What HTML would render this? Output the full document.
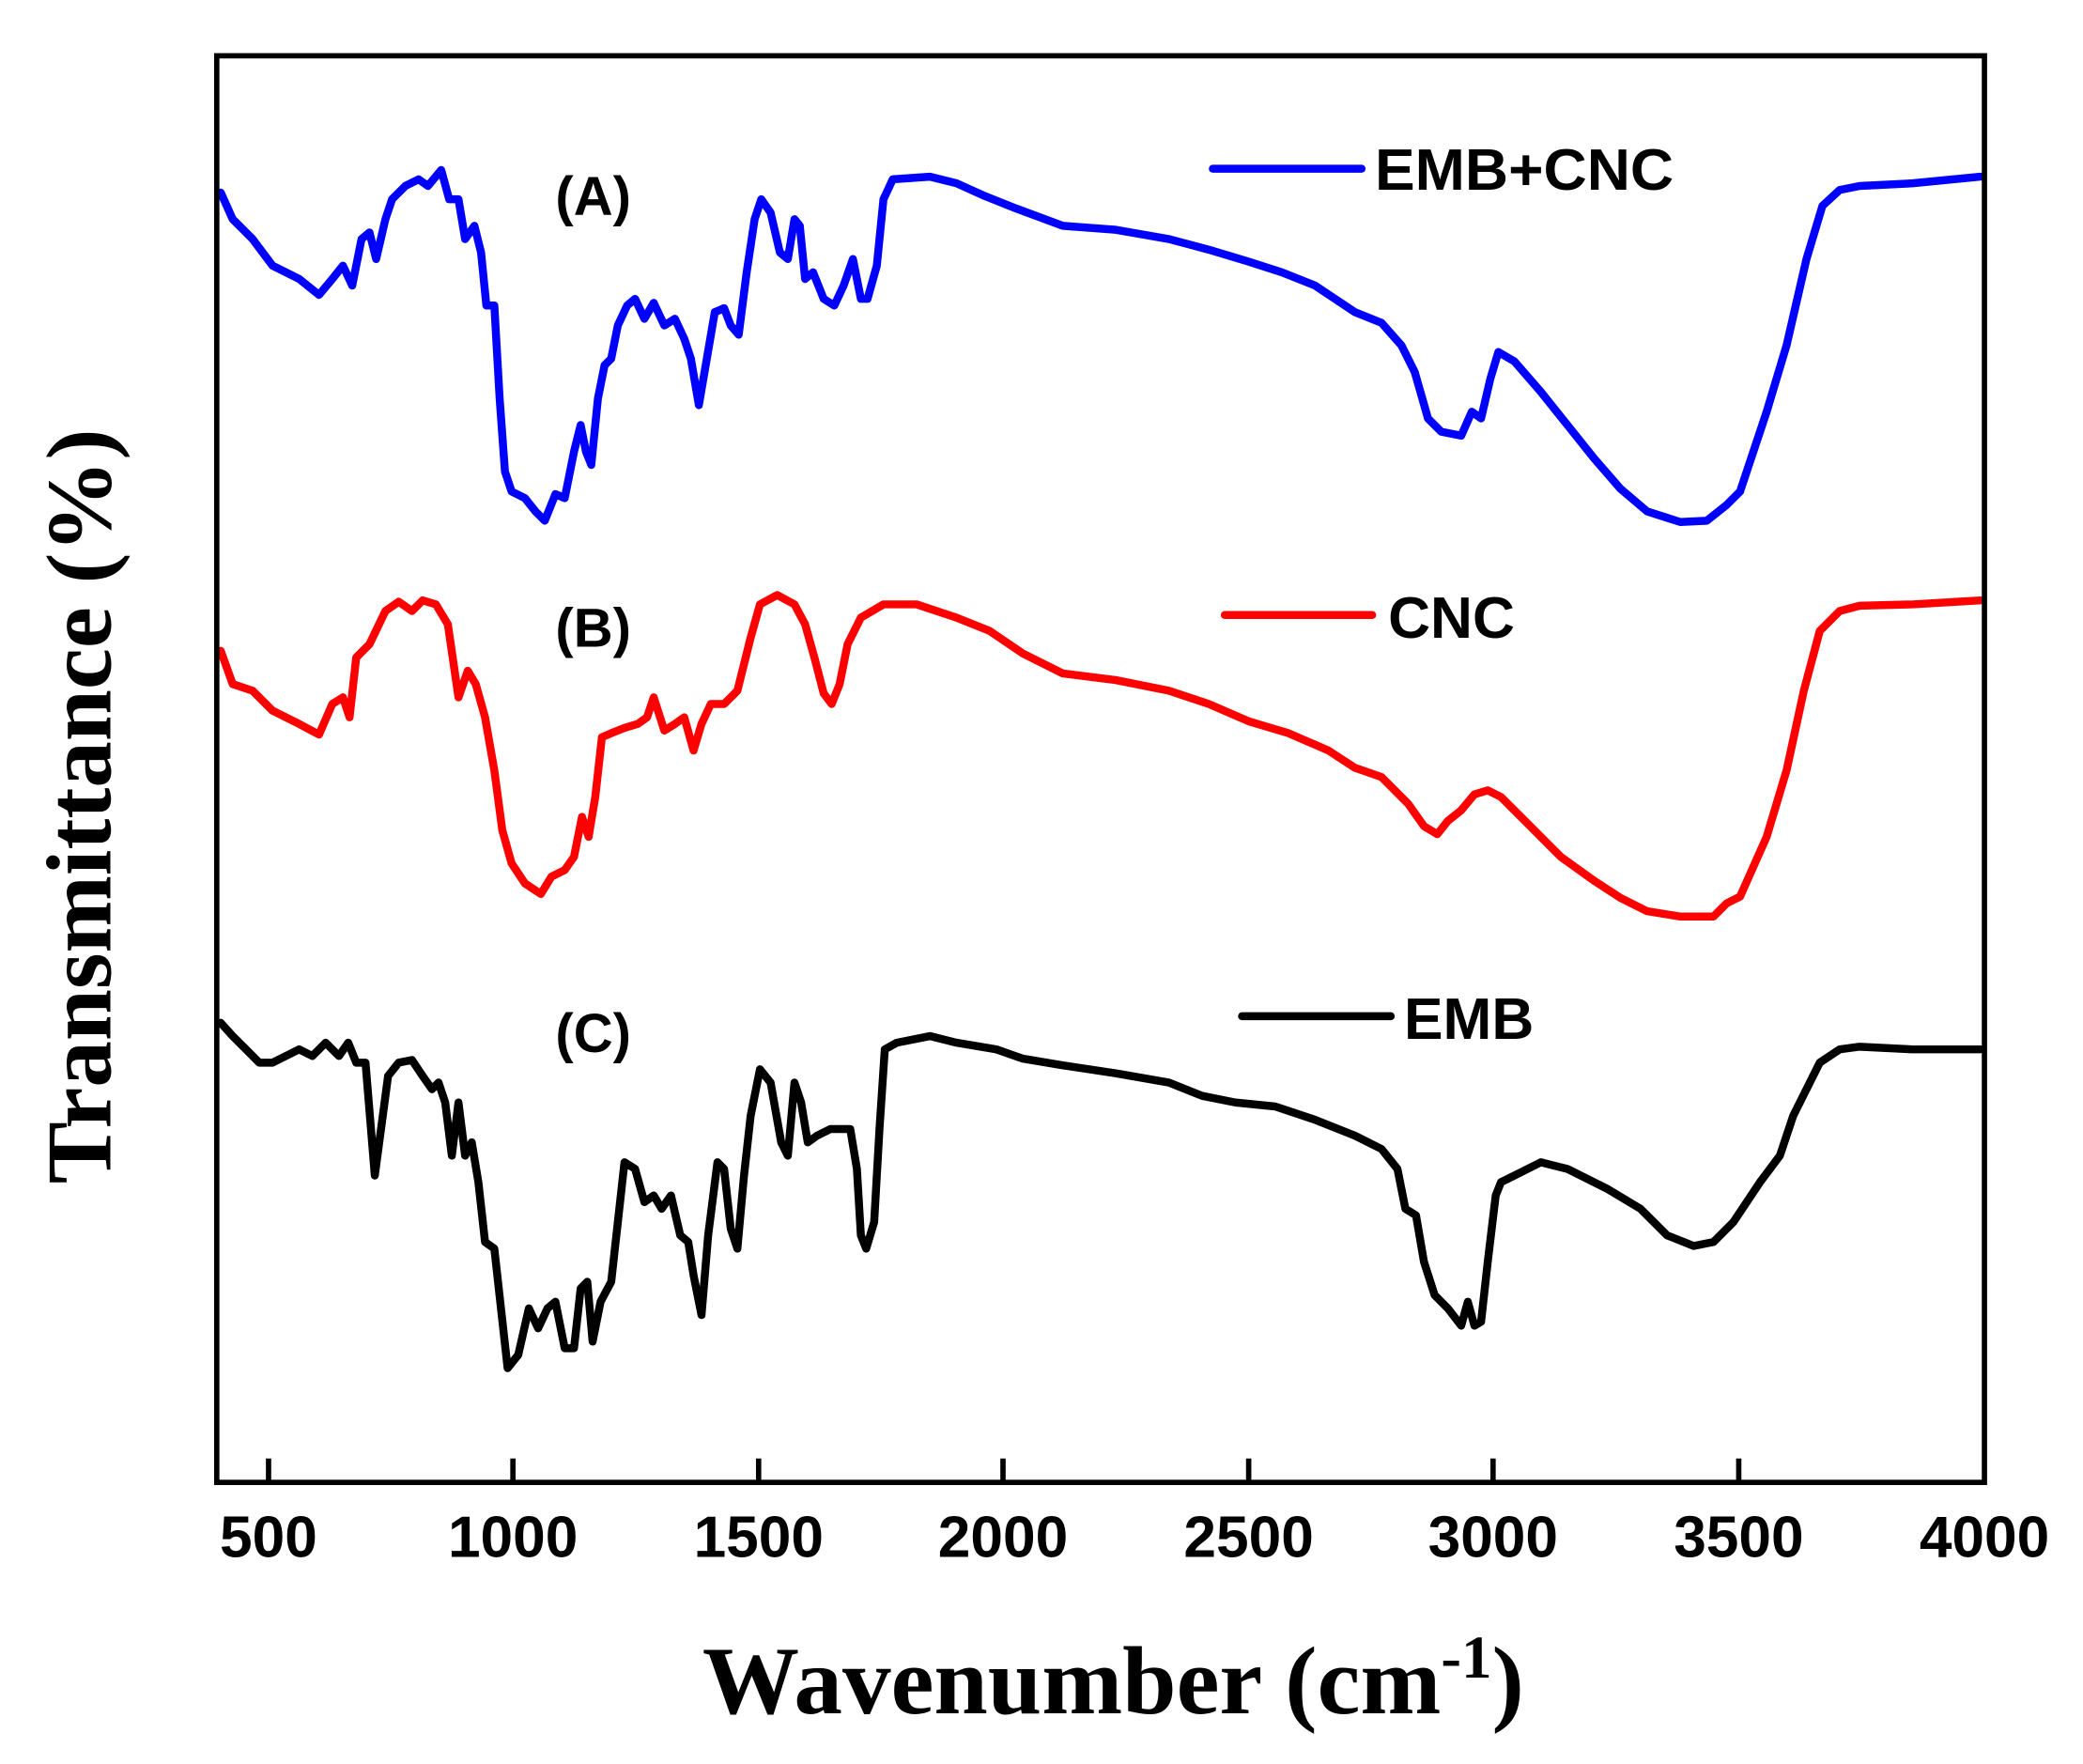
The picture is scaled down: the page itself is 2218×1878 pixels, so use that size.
<!DOCTYPE html>
<html><head><style>html,body{margin:0;padding:0;background:#fff}svg{display:block}</style></head><body>
<svg width="2218" height="1878" viewBox="0 0 1568 1328" xmlns="http://www.w3.org/2000/svg">
<rect x="0" y="0" width="1568" height="1328" fill="#fff"/>
<g fill="none" stroke-linejoin="round" stroke-linecap="round" stroke-width="6">
<polyline stroke="#0000ff" points="166,145 175,165 190,180 205,200 225,210 240,222 250,210 258,200 265,215 272,180 278,175 283,195 290,165 295,150 305,140 315,135 322,140 332,128 338,150 345,150 350,180 357,170 362,190 366,230 372,230 376,300 380,355 385,370 395,375 403,385 410,392 418,372 425,375 432,340 437,320 441,340 445,350 450,300 455,275 460,270 465,245 472,230 478,225 485,240 492,228 500,245 508,240 515,255 520,270 526,305 532,270 538,235 545,232 550,245 556,252 562,205 568,165 573,150 580,160 587,190 593,195 598,165 602,170 606,210 612,205 620,225 628,230 635,215 642,195 648,225 653,225 660,200 665,150 672,135 700,133 720,138 740,147 765,157 800,170 840,173 880,180 910,188 940,197 965,205 990,215 1020,235 1040,243 1055,260 1065,280 1075,315 1085,325 1100,328 1108,310 1115,315 1122,285 1128,265 1140,272 1160,295 1180,320 1200,345 1220,368 1240,385 1265,393 1285,392 1300,380 1310,370 1330,310 1345,260 1360,195 1372,155 1385,143 1400,140 1440,138 1491,133"/>
<polyline stroke="#ff0000" points="166,490 175,515 190,520 205,535 225,545 240,553 250,530 258,525 263,540 268,495 278,485 290,460 300,453 310,460 318,452 328,455 337,470 345,525 352,505 358,515 365,540 372,580 378,625 385,650 395,665 407,673 415,660 425,655 432,645 438,615 443,630 448,600 453,555 460,552 470,548 480,545 487,540 492,525 500,550 508,545 515,540 522,565 528,545 535,530 545,530 555,520 565,480 572,455 585,448 598,455 606,470 613,495 620,522 626,530 632,515 638,485 648,465 665,455 690,455 720,465 745,475 770,492 800,507 840,512 880,520 910,530 940,543 970,552 1000,565 1020,578 1040,585 1060,605 1072,622 1082,628 1090,618 1100,610 1110,598 1120,595 1130,600 1150,620 1175,645 1200,663 1220,676 1240,686 1265,690 1290,690 1300,680 1310,675 1330,630 1345,580 1358,520 1370,475 1385,460 1400,456 1440,455 1491,452"/>
<polyline stroke="#000000" points="166,770 175,780 185,790 195,800 205,800 215,795 225,790 235,795 245,785 255,795 262,785 268,800 275,800 282,885 288,840 292,810 300,800 310,798 318,810 325,820 330,815 335,830 340,870 345,830 350,870 355,860 360,890 365,935 372,940 377,985 382,1030 390,1020 398,985 405,1000 412,985 418,980 425,1015 432,1015 437,970 442,965 446,1010 452,980 460,965 465,920 470,875 478,880 485,905 492,900 498,910 505,900 512,930 518,935 522,960 528,990 533,930 540,875 545,880 550,925 555,940 560,885 565,840 572,805 580,815 588,860 593,870 598,815 603,830 608,860 615,855 625,850 633,850 640,850 645,880 648,930 652,940 658,920 662,850 666,790 675,785 700,780 720,785 750,790 770,797 800,802 840,808 880,815 905,825 930,830 960,833 990,843 1020,855 1040,865 1052,880 1058,910 1066,915 1072,950 1080,975 1090,985 1100,998 1105,980 1110,998 1115,995 1120,950 1126,900 1130,890 1140,885 1160,875 1180,880 1210,895 1235,910 1255,930 1275,938 1290,935 1305,920 1325,890 1340,870 1350,840 1370,800 1385,790 1400,788 1440,790 1491,790"/>
<line x1="913" y1="127" x2="1025" y2="127" stroke="#0000ff" stroke-width="6"/>
<line x1="922" y1="463" x2="1033" y2="463" stroke="#ff0000" stroke-width="6"/>
<line x1="935" y1="765" x2="1047" y2="765" stroke="#000" stroke-width="6"/>
</g>
<rect x="163" y="42" width="1331" height="1074" fill="none" stroke="#000" stroke-width="4"/>
<g stroke="#000" stroke-width="4">
<line x1="202" y1="1116" x2="202" y2="1098"/><line x1="386" y1="1116" x2="386" y2="1098"/><line x1="571" y1="1116" x2="571" y2="1098"/><line x1="755" y1="1116" x2="755" y2="1098"/><line x1="940" y1="1116" x2="940" y2="1098"/><line x1="1124" y1="1116" x2="1124" y2="1098"/><line x1="1309" y1="1116" x2="1309" y2="1098"/>
</g>
<g font-family="Liberation Sans, sans-serif" font-weight="bold" font-size="44" text-anchor="middle" fill="#000">
<text x="202" y="1172">500</text><text x="386" y="1172">1000</text><text x="571" y="1172">1500</text><text x="755" y="1172">2000</text><text x="940" y="1172">2500</text><text x="1124" y="1172">3000</text><text x="1309" y="1172">3500</text><text x="1494" y="1172">4000</text>
</g>
<g font-family="Liberation Sans, sans-serif" font-weight="bold" font-size="44" fill="#000">
<text x="1035" y="143" textLength="225" lengthAdjust="spacingAndGlyphs">EMB+CNC</text><text x="1045" y="480">CNC</text><text x="1057" y="782">EMB</text>
</g>
<g font-family="Liberation Sans, sans-serif" font-weight="bold" font-size="41" fill="#000">
<text x="418" y="162">(A)</text><text x="418" y="487">(B)</text><text x="418" y="792">(C)</text>
</g>
<text x="838" y="1290" font-family="Liberation Serif, serif" font-weight="bold" font-size="73" text-anchor="middle">Wavenumber (cm<tspan font-size="46" dy="-27">-1</tspan><tspan dy="27">)</tspan></text>
<text transform="translate(83,607) rotate(-90)" font-family="Liberation Serif, serif" font-weight="bold" font-size="70" text-anchor="middle">Transmittance (%)</text>
</svg>
</body></html>
